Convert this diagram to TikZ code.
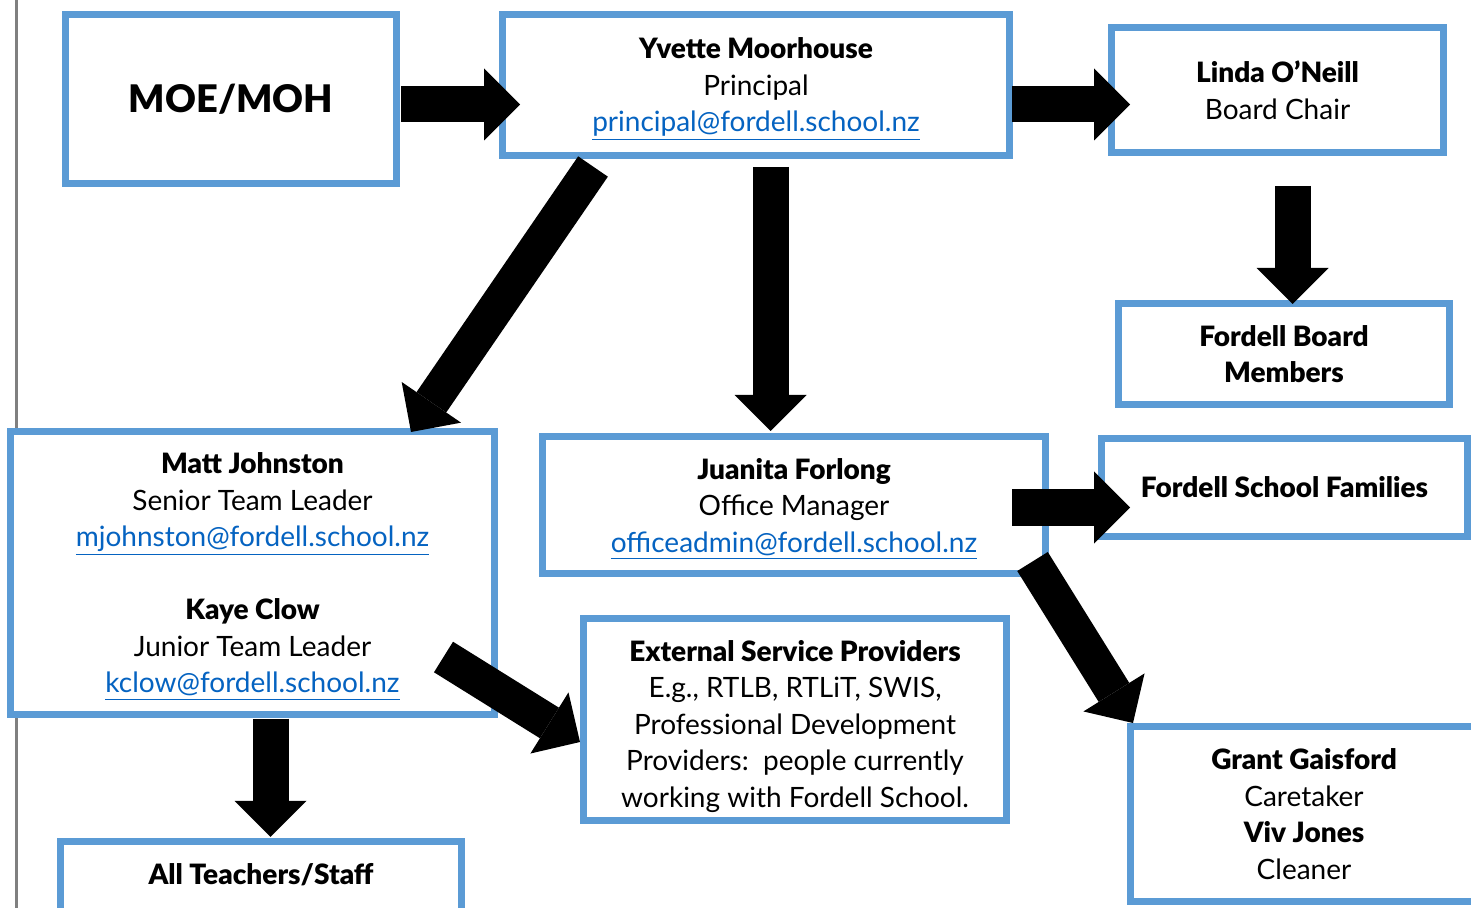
\documentclass[tikz,border=0pt]{standalone}
\usepackage{fontspec}
\setmainfont{Lato}[BoldFont={Lato Black}]
\usetikzlibrary{arrows.meta}
\definecolor{boxblue}{RGB}{91,155,213}
\definecolor{linkblue}{RGB}{5,99,193}
\newcommand{\maillink}[1]{\textcolor{linkblue}{\smash{\underline{#1}}}}

\begin{document}
\begin{tikzpicture}[
  x = 0.5pt, y = -0.5pt,
  org box/.style = {draw=boxblue, line width=3.5pt, fill=white, inner sep=0pt,
    outer sep=0pt, align=center, font=\fontsize{14}{18.25}\selectfont},
  block arrow/.style = {line width=18pt,
    -{Triangle[length=18pt, width=36pt, line width=0pt]}}
]
  \useasboundingbox (0,0) rectangle (1471,908);
  \clip (0,0) rectangle (1471,908);

  \draw[gray, line width=1.5pt] (16.5,0) -- (16.5,908);

  % boxes
  \node[org box, minimum width=165.5pt, minimum height=84.5pt] (moe) at (231,99)
    {\fontsize{19}{23}\selectfont\bfseries MOE/MOH};
  \node[org box, minimum width=253.5pt, minimum height=70.5pt] (yvette) at (756,85)
    {\textbf{Yvette Moorhouse}\\ Principal\\ \maillink{principal@fordell.school.nz}};
  \node[org box, minimum width=166pt, minimum height=62.5pt] (linda) at (1277.5,90)
    {\textbf{Linda O’Neill}\\ Board Chair};
  \node[org box, minimum width=165.5pt, minimum height=50.5pt] (board) at (1284,354)
    {\textbf{Fordell Board}\\ \textbf{Members}};
  \node[org box, minimum width=242pt, minimum height=141pt] (matt) at (252.5,573)
    {\textbf{Matt Johnston}\\ Senior Team Leader\\ \maillink{mjohnston@fordell.school.nz}\\[\baselineskip]
     \textbf{Kaye Clow}\\ Junior Team Leader\\ \maillink{kclow@fordell.school.nz}};
  \node[org box, minimum width=251.5pt, minimum height=68.5pt] (juanita) at (794,505)
    {\textbf{Juanita Forlong}\\ Office Manager\\ \maillink{officeadmin@fordell.school.nz}};
  \node[org box, minimum width=183pt, minimum height=49pt] (families) at (1284.5,487.5)
    {\textbf{Fordell School Families}};
  \node[org box, minimum width=211.5pt, minimum height=101pt] (external) at (795,719.5)
    {\rule{0pt}{17.5pt}\textbf{External Service Providers}\\ E.g., RTLB, RTLiT, SWIS,\\ Professional Development\\
     Providers:\ \ people currently\\ working with Fordell School.};
  \node[org box, minimum width=173.5pt, minimum height=87.5pt] (grant) at (1304,814)
    {\textbf{Grant Gaisford}\\ Caretaker\\ \textbf{Viv Jones}\\ Cleaner};
  \node[org box, minimum width=200.5pt, minimum height=36.75pt, text depth=4pt] (teachers) at (261,878)
    {\textbf{All Teachers/Staff}};

  % arrows
  \draw[block arrow] ([shift={(4.5,5.5)}]moe.east) -- ([shift={(17.5,19.5)}]yvette.west);
  \draw[block arrow] ([shift={(2.5,19.5)}]yvette.east) -- ([shift={(18.5,14.5)}]linda.west);
  \draw[block arrow] ([shift={(15,33.5)}]linda.south) -- ([shift={(8.5,0.5)}]board.north);
  \draw[block arrow] ([shift={(90.5,11)}]yvette.south west) -- ([shift={(-83.5,0)}]matt.north east);
  \draw[block arrow] ([shift={(14.5,11.5)}]yvette.south) -- ([shift={(-23.5,-5.5)}]juanita.north);
  \draw[block arrow] ([shift={(-33.5,2.5)}]juanita.east) -- ([shift={(28.5,20)}]families.west);
  \draw[block arrow] ([shift={(-13,-12)}]juanita.south east) -- ([shift={(2.5,-3.5)}]grant.north west);
  \draw[block arrow] ([shift={(-51,-57)}]matt.south east) -- ([shift={(-3.5,22.5)}]external.west);
  \draw[block arrow] ([shift={(18,4.5)}]matt.south) -- ([shift={(9.5,-4.5)}]teachers.north);
\end{tikzpicture}
\end{document}
